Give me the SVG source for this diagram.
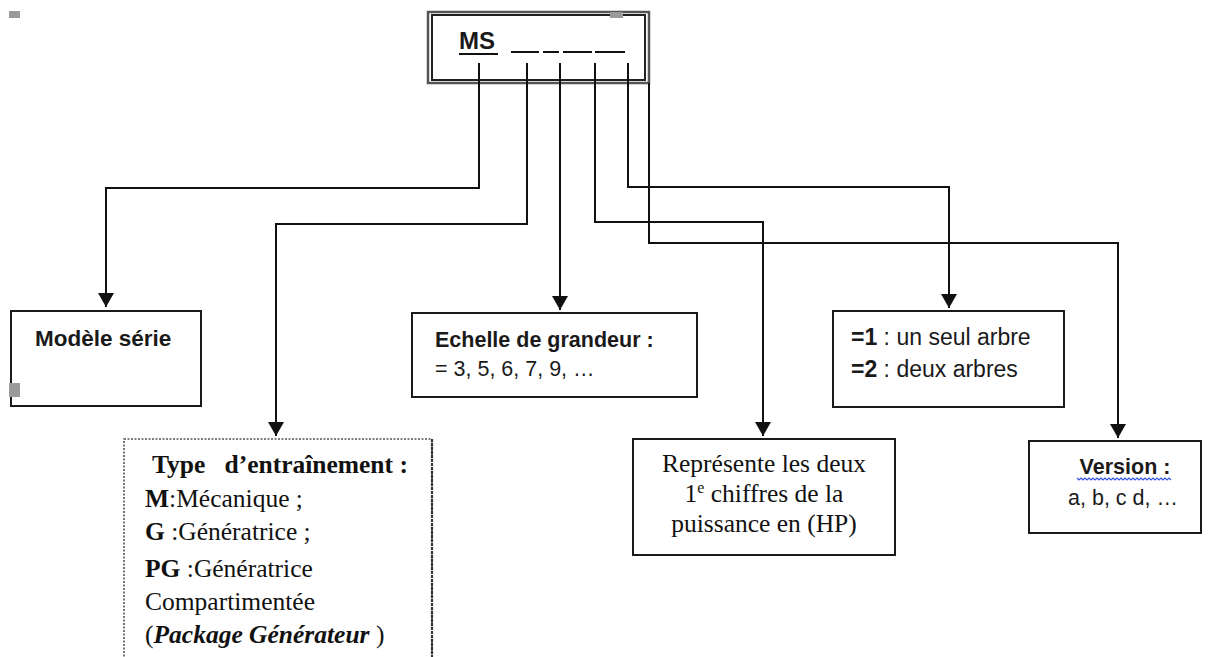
<svg xmlns="http://www.w3.org/2000/svg" width="1210" height="657" viewBox="0 0 1210 657">
<style>
.box{fill:#fff;stroke:#1a1a1a;stroke-width:2}
.dash{fill:#fff;stroke:#555;stroke-width:1.6;stroke-dasharray:2 1.5}
.con{fill:none;stroke:#111;stroke-width:2;marker-end:url(#arr)}
.sans{font-family:"Liberation Sans",Arial,sans-serif;fill:#1a1a1a}
.serif{font-family:"Liberation Serif","Times New Roman",serif;fill:#111}
.b{font-weight:bold}
.gray{fill:#9a9a9a}
</style>
<defs>
<marker id="arr" markerUnits="userSpaceOnUse" markerWidth="16" markerHeight="16" viewBox="0 -8 14 16" refX="14" refY="0" orient="auto">
<path d="M0,-8 L14,0 L0,8 z" fill="#111"/>
</marker>
</defs>
<rect class="gray" x="9" y="11" width="11" height="7"/>

<g id="ms">
<rect x="428" y="12" width="221" height="71" fill="#fff" stroke="#555" stroke-width="2.5"/>
<rect x="432" y="15" width="213" height="65" fill="none" stroke="#222" stroke-width="2"/>
<rect class="gray" x="610" y="12" width="13" height="6"/>
<text class="sans b" x="459" y="49" font-size="24">MS</text>
<line x1="459" y1="54" x2="498" y2="54" stroke="#111" stroke-width="2"/>
<g stroke="#111" stroke-width="2">
<line x1="511" y1="52" x2="539" y2="52"/>
<line x1="543" y1="52" x2="559" y2="52"/>
<line x1="563" y1="52" x2="592" y2="52"/>
<line x1="595" y1="52" x2="625" y2="52"/>
</g>
</g>

<g id="connectors">
<path class="con" d="M479,63 V188 H106 V307"/>
<path class="con" d="M527,63 V224 H276 V436"/>
<path class="con" d="M560,63 V310"/>
<path class="con" d="M595,63 V222 H763 V436"/>
<path class="con" d="M628,63 V187 H949 V308"/>
<path class="con" d="M649,83 V243 H1118 V438"/>
</g>

<g id="modele">
<rect class="box" x="11" y="311" width="190" height="95"/>
<rect class="gray" x="9" y="383" width="11" height="14"/>
<text class="sans b" x="35" y="346" font-size="22.5">Modèle série</text>
</g>

<g id="type" font-family="'Liberation Serif','Times New Roman',serif">
<rect class="dash" x="124" y="439" width="308" height="240"/>
<line x1="432" y1="439" x2="432" y2="657" stroke="#333" stroke-width="2.2" stroke-dasharray="3 1"/>
<text class="serif b" x="152" y="473" font-size="25.5" xml:space="preserve">Type   d’entraînement :</text>
<text class="serif" x="145" y="507" font-size="25.5"><tspan font-weight="bold">M</tspan>:Mécanique ;</text>
<text class="serif" x="145" y="540" font-size="25.5"><tspan font-weight="bold">G</tspan> :Génératrice ;</text>
<text class="serif" x="145" y="577" font-size="25.5"><tspan font-weight="bold">PG</tspan> :Génératrice</text>
<text class="serif" x="145" y="610" font-size="25.5">Compartimentée</text>
<text class="serif" x="145" y="643" font-size="25.5">(<tspan font-weight="bold" font-style="italic">Package Générateur</tspan> )</text>
</g>

<g id="echelle">
<rect class="box" x="412" y="313" width="285" height="84"/>
<text class="sans b" x="435" y="347" font-size="21.5">Echelle de grandeur :</text>
<text class="sans" x="435" y="376" font-size="21.5">= 3, 5, 6, 7, 9, …</text>
</g>

<g id="represente" font-family="'Liberation Serif','Times New Roman',serif">
<rect class="box" x="633" y="439" width="262" height="116"/>
<text class="serif" x="764" y="472" font-size="25.5" text-anchor="middle">Représente les deux</text>
<text class="serif" x="764" y="502" font-size="25.5" text-anchor="middle">1<tspan font-size="16" dy="-9">e</tspan><tspan dy="9"> chiffres de la</tspan></text>
<text class="serif" x="764" y="532" font-size="25.5" text-anchor="middle">puissance en (HP)</text>
</g>

<g id="arbres">
<rect class="box" x="833" y="311" width="231" height="96"/>
<text class="sans" x="851" y="345" font-size="23"><tspan font-weight="bold">=1</tspan> : un seul arbre</text>
<text class="sans" x="851" y="377" font-size="23"><tspan font-weight="bold">=2</tspan> : deux arbres</text>
</g>

<g id="version">
<rect class="box" x="1029" y="441" width="172" height="92"/>
<text class="sans b" x="1125" y="474" font-size="21.5" text-anchor="middle" fill="#333">Version :</text>
<path d="M1077,478 l2,2 l2,-2 l2,2 l2,-2 l2,2 l2,-2 l2,2 l2,-2 l2,2 l2,-2 l2,2 l2,-2 l2,2 l2,-2 l2,2 l2,-2 l2,2 l2,-2 l2,2 l2,-2 l2,2 l2,-2 l2,2 l2,-2 l2,2 l2,-2 l2,2 l2,-2 l2,2 l2,-2 l2,2 l2,-2 l2,2 l2,-2 l2,2 l2,-2 l2,2 l2,-2 l2,2 l2,-2 l2,2 l2,-2 l2,2 l2,-2 l2,2 l2,-2 l2,2" fill="none" stroke="#3355ee" stroke-width="1.2"/>
<text class="sans" x="1123" y="505" font-size="21.5" text-anchor="middle" fill="#333">a, b, c d, …</text>
</g>
</svg>
